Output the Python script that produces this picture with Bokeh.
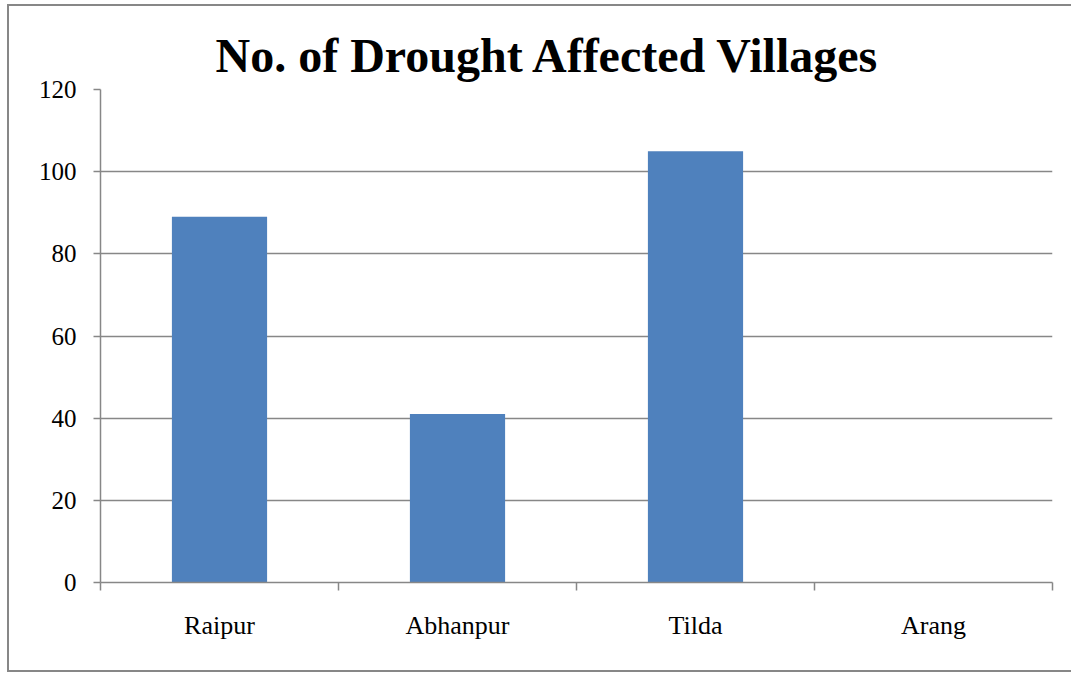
from bokeh.plotting import figure
from bokeh.models import FixedTicker, ColumnDataSource, Range1d
from bokeh.embed import file_html
from bokeh.resources import INLINE

categories = ["Raipur", "Abhanpur", "Tilda", "Arang"]
villages = [89, 41, 105, 0]
y_ticks = [0, 20, 40, 60, 80, 100, 120]

GRAY = "#878787"
FONT = "Liberation Serif"

xpos = [i + 0.5 for i in range(len(categories))]
src = ColumnDataSource(dict(x=xpos, top=villages, cat=categories))

p = figure(width=1064, height=668, output_backend="svg", toolbar_location=None,
           x_range=Range1d(0, len(categories)), y_range=Range1d(0, 120),
           min_border_left=91, min_border_right=21, min_border_top=83, min_border_bottom=92,
           styles={"border-left": "2px solid #878787", "border-top": "2px solid #878787",
                   "border-bottom": "2px solid #878787", "border-right": "none",
                   "margin-left": "7px", "margin-top": "4px"})

p.vbar(x="x", top="top", width=0.4, source=src, fill_color="#4F81BD", line_color=None)

p.title.text = "No. of Drought Affected Villages"
p.title.text_font = FONT
p.title.text_font_size = "48px"
p.title.text_font_style = "bold"
p.title.text_color = "black"
p.title.align = "left"
p.title.offset = 115
p.title.standoff = 16

p.outline_line_color = None
p.background_fill_color = "white"
p.border_fill_color = "white"

# y axis
p.yaxis.ticker = FixedTicker(ticks=y_ticks)
p.yaxis.axis_line_color = GRAY
p.yaxis.axis_line_width = 1.5
p.yaxis.major_tick_line_color = GRAY
p.yaxis.major_tick_line_width = 1.5
p.yaxis.major_tick_in = 0
p.yaxis.major_tick_out = 7
p.yaxis.minor_tick_line_color = None
p.yaxis.major_label_standoff = 17
p.yaxis.major_label_text_font = FONT
p.yaxis.major_label_text_font_size = "25px"
p.yaxis.major_label_text_color = "black"

# x axis: labels at category centers, ticks at category boundaries
p.xaxis.ticker = FixedTicker(ticks=xpos, minor_ticks=list(range(len(categories) + 1)))
p.xaxis.major_label_overrides = {x: c for x, c in zip(xpos, categories)}
p.xaxis.axis_line_color = GRAY
p.xaxis.axis_line_width = 1.5
p.xaxis.major_tick_line_color = None
p.xaxis.major_tick_in = 0
p.xaxis.major_tick_out = 0
p.xaxis.minor_tick_line_color = GRAY
p.xaxis.minor_tick_line_width = 1.5
p.xaxis.minor_tick_in = 0
p.xaxis.minor_tick_out = 8
p.xaxis.major_label_standoff = 20
p.xaxis.major_label_text_font = FONT
p.xaxis.major_label_text_font_size = "26px"
p.xaxis.major_label_text_color = "black"

p.xgrid.grid_line_color = None
p.ygrid.ticker = FixedTicker(ticks=y_ticks)
p.ygrid.grid_line_color = GRAY
p.ygrid.grid_line_width = 1.5

open("out.html", "w").write(file_html(p, INLINE))
